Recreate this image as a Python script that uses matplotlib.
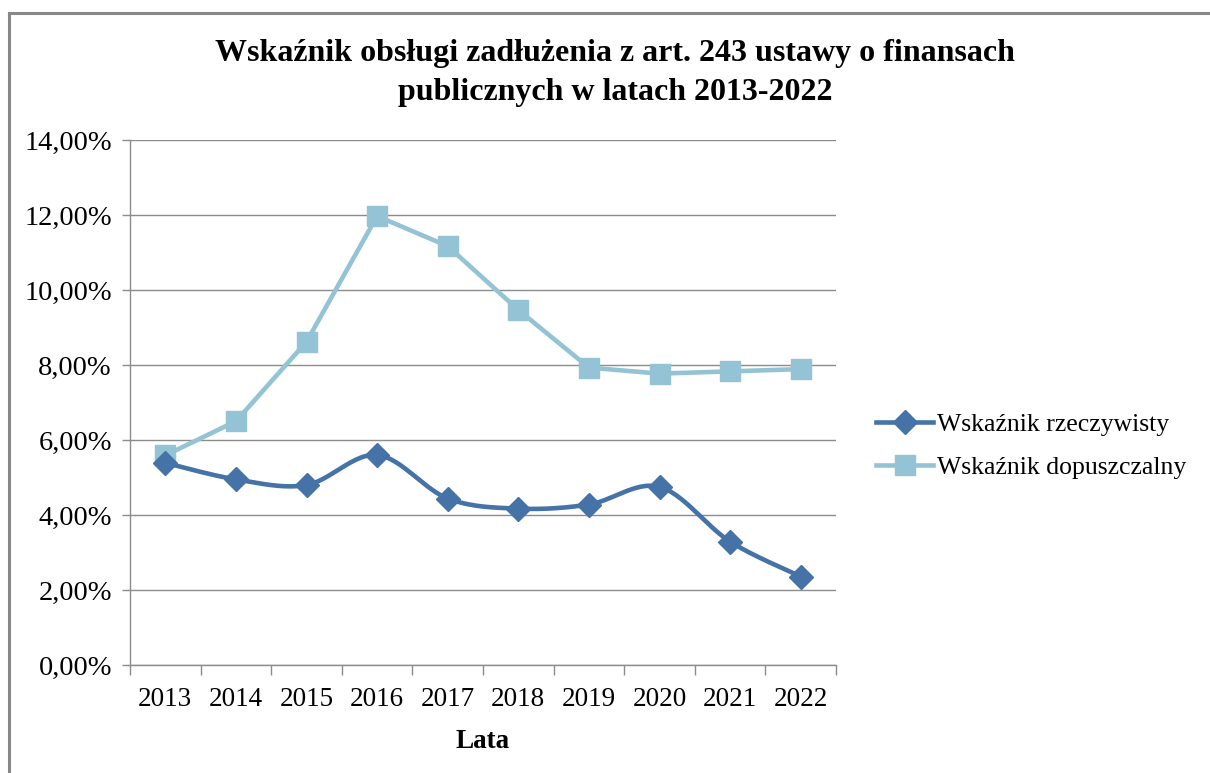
import numpy as np
import matplotlib
matplotlib.use("Agg")
import matplotlib.pyplot as plt
from matplotlib.lines import Line2D

years = ["2013", "2014", "2015", "2016", "2017", "2018", "2019", "2020", "2021", "2022"]
rzeczywisty = [5.39, 4.95, 4.80, 5.60, 4.44, 4.17, 4.28, 4.75, 3.29, 2.36]
dopuszczalny = [5.59, 6.50, 8.62, 11.97, 11.17, 9.47, 7.93, 7.77, 7.83, 7.89]
yticks = [0, 2, 4, 6, 8, 10, 12, 14]
title = "Wskaźnik obsługi zadłużenia z art. 243 ustawy o finansach\npublicznych w latach 2013-2022"
xlabel = "Lata"
names = ["Wskaźnik rzeczywisty", "Wskaźnik dopuszczalny"]

DARK = "#4572A7"
LIGHT = "#93C3D4"
GRID = "#8C8C8C"

plt.rcParams['font.family'] = ['Liberation Serif', 'DejaVu Serif']

def smooth(x, y, n=30):
    x = np.asarray(x, float); y = np.asarray(y, float)
    P = np.column_stack([x, y])
    Pe = np.vstack([P[0], P, P[-1]])
    out = []
    for i in range(len(P) - 1):
        p0, p1, p2, p3 = Pe[i], Pe[i+1], Pe[i+2], Pe[i+3]
        c1 = p1 + (p2 - p0) / 6.0
        c2 = p2 - (p3 - p1) / 6.0
        t = np.linspace(0, 1, n, endpoint=(i == len(P) - 2))[:, None]
        seg = ((1-t)**3)*p1 + 3*((1-t)**2)*t*c1 + 3*(1-t)*t**2*c2 + t**3*p2
        out.append(seg)
    s = np.vstack(out)
    return s[:, 0], s[:, 1]

fig = plt.figure(figsize=(12.1, 7.73), dpi=100)
ax = fig.add_axes([130/1210, 1-665/773, (836-130)/1210, (665-140)/773])

x = np.arange(len(years))
ax.plot(x, dopuszczalny, color=LIGHT, lw=3.3, marker='s', ms=14, mfc=LIGHT, mec=LIGHT, zorder=3)
sx, sy = smooth(x, rzeczywisty)
ax.plot(sx, sy, color=DARK, lw=3.3, zorder=4, solid_capstyle='round')
ax.plot(x, rzeczywisty, ls='none', marker='D', ms=12, mfc=DARK, mec=DARK, zorder=5)

ax.set_xlim(-0.5, len(years) - 0.5)
ax.set_ylim(0, 14)
ax.set_yticks(yticks)
ax.set_yticklabels([f"{v:.2f}%".replace('.', ',') for v in yticks], fontsize=20.5)
ax.set_xticks(x)
ax.set_xticklabels(years, fontsize=19.5)
ax.set_xticks(np.arange(-0.5, len(years), 1.0), minor=True)
ax.tick_params(axis='x', which='major', length=0, pad=16)
ax.tick_params(axis='x', which='minor', length=7, width=1, color=GRID, direction='out')
ax.tick_params(axis='y', length=6, width=1, color=GRID, direction='out', pad=7)
ax.yaxis.grid(True, color=GRID, lw=1)
ax.set_axisbelow(True)
for s in ['top', 'right']:
    ax.spines[s].set_visible(False)
for s in ['left', 'bottom']:
    ax.spines[s].set_color(GRID)
    ax.spines[s].set_linewidth(1)
ax.set_xlabel(xlabel, fontsize=19.5, fontweight='bold', labelpad=12)

fig.text(615/1210, 1-73/773, title, ha='center', va='center', fontsize=23,
         fontweight='bold', linespacing=1.45)

handles = [Line2D([], [], color=DARK, lw=3.3, marker='D', ms=12, mfc=DARK, mec=DARK),
           Line2D([], [], color=LIGHT, lw=3.3, marker='s', ms=14, mfc=LIGHT, mec=LIGHT)]
fig.legend(handles, names, loc='center left', bbox_to_anchor=(866/1210, 1-446/773),
           frameon=False, fontsize=18.5, handlelength=2.2, handletextpad=0.15,
           labelspacing=0.8, borderaxespad=0)

fig.add_artist(Line2D([9/1210, 9/1210], [0, 1-13/773], color="#888888", lw=2.2,
                      transform=fig.transFigure))
fig.add_artist(Line2D([9/1210, 1], [1-13/773, 1-13/773], color="#888888", lw=2.2,
                      transform=fig.transFigure))

fig.savefig("out.png", dpi=100)
